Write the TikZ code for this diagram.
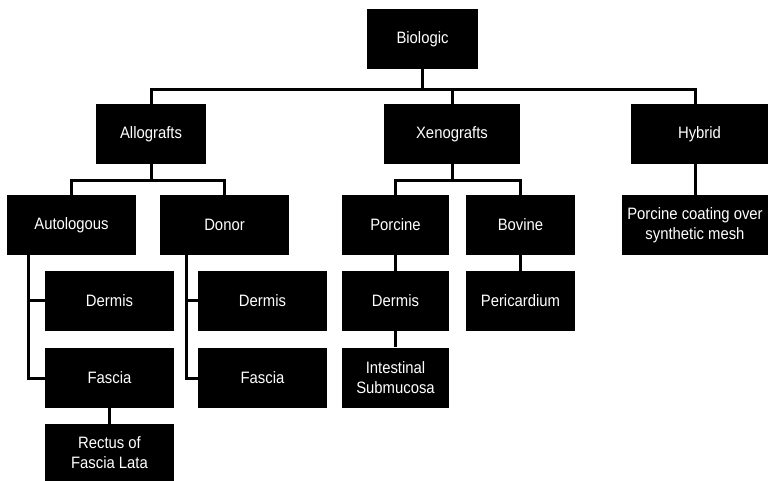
\documentclass[tikz,border=0pt]{standalone}
\usepackage{fontspec}
\setmainfont{Liberation Sans}[FakeStretch=0.9]
\usepackage{tikz}

\begin{document}
\begin{tikzpicture}[x=1pt, y=-1pt,
            box/.style={fill=black, text=white, inner sep=0pt, align=center,
                minimum height=60, font=\fontsize{16.5}{20}\selectfont},
            link/.style={draw=black, line width=3pt}]
            \useasboundingbox (0,0) rectangle (769,481);
            % top levels
            \node[box, minimum width=111] (bio) at (422.5,39) {Biologic};
            \node[box, minimum width=110] (allo) at (151,134) {Allografts};
            \node[box, minimum width=136] (xeno) at (452,134) {Xenografts};
            \node[box, minimum width=137] (hyb) at (699.5,134) {Hybrid};
            \node[box, minimum width=129] (auto) at (71.5,225) {Autologous};
            \node[box, minimum width=129] (donor) at (224.5,225) {Donor};
            \node[box, minimum width=107] (porc) at (395.5,225) {Porcine};
            \node[box, minimum width=109] (bov) at (520.5,225) {Bovine};
            \node[box, minimum width=146] (coat) at (695,225) {Porcine coating over\\synthetic mesh};
            % tissues
            \node[box, minimum width=129] (derma) at (109.5,301) {Dermis};
            \node[box, minimum width=129] (fasca) at (109.5,378) {Fascia};
            \node[box, minimum width=129, minimum height=57] (rect) at (109.5,452.5) {Rectus of\\Fascia Lata};
            \node[box, minimum width=129] (dermb) at (262.5,301) {Dermis};
            \node[box, minimum width=129] (fascb) at (262.5,378) {Fascia};
            \node[box, minimum width=107] (dermc) at (395.5,301) {Dermis};
            \node[box, minimum width=107] (intest) at (395.5,377.5) {Intestinal\\Submucosa};
            \node[box, minimum width=109] (peri) at (520.5,301) {Pericardium};
            % connectors
            \foreach \k in {allo,xeno} {
                \draw[link] (bio.south) -- ++(0,20) -| (\k.north);
            }
            \draw[link] (bio.south) -- ++(0,20) -| (coat.north |- hyb.north);
            \draw[link] (coat.north |- hyb.south) -- (coat.north);
            \foreach \k in {auto,donor} {
                \draw[link] (allo.south) -- ++(0,16) -| (\k.north);
            }
            \foreach \k in {porc,bov} {
                \draw[link] (xeno.south) -- ++(0,16) -| (\k.north);
            }
            \foreach \k in {derma,fasca} {
                \draw[link] ([xshift=-43.5]auto.south) |- (\k.west);
            }
            \foreach \k in {dermb,fascb} {
                \draw[link] ([xshift=-38.5]donor.south) |- (\k.west);
            }
            \draw[link] (fasca) -- (rect);
            \draw[link] (porc) -- (dermc);
            \draw[link] (dermc) -- (intest);
            \draw[link] (bov) -- (peri);
        \end{tikzpicture}
\end{document}
